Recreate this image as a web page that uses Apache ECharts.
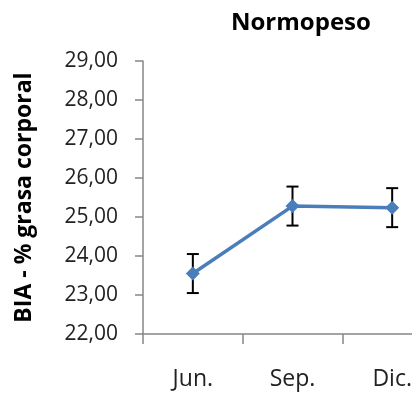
<!DOCTYPE html>
<html><head><meta charset="utf-8">
<script src="https://cdn.jsdelivr.net/npm/echarts@6/dist/echarts.min.js"></script>
<style>html,body{margin:0;padding:0;background:#fff}#c{width:412px;height:394px}</style>
</head><body><div id="c"></div>
<script>
var categories = ['Jun.', 'Sep.', 'Dic.'];
var values = [23.55, 25.28, 25.24];
var errors = [0.50, 0.50, 0.50];
var yTicks = [22, 23, 24, 25, 26, 27, 28, 29];

var chart = echarts.init(document.getElementById('c'));
var errData = values.map(function (v, i) { return [i, v - errors[i], v + errors[i]]; });
chart.setOption({
  animation: false,
  title: {
    text: 'Normopeso', left: 226, top: 6,
    textStyle: { fontFamily: 'Open Sans', fontWeight: 'bold', fontSize: 24, color: '#000' }
  },
  grid: { left: 143, top: 61, height: 273, width: 299, outerBoundsMode: 'none', containLabel: false },
  xAxis: {
    type: 'category', data: categories, boundaryGap: true,
    axisLine: { lineStyle: { color: '#868686', width: 1.5 } },
    axisTick: { show: true, length: 10, lineStyle: { color: '#868686', width: 1.5 } },
    axisLabel: { margin: 34, fontFamily: 'Open Sans', fontSize: 23, color: '#222' }
  },
  yAxis: {
    type: 'value', min: yTicks[0], max: yTicks[yTicks.length - 1], interval: 1,
    name: 'BIA - % grasa corporal', nameLocation: 'middle', nameGap: 107, nameRotate: 90,
    nameTextStyle: { fontFamily: 'Open Sans', fontWeight: 'bold', fontSize: 23, color: '#000' },
    splitLine: { show: false },
    axisLine: { show: true, lineStyle: { color: '#868686', width: 1.5 } },
    axisTick: { show: true, length: 8, lineStyle: { color: '#868686', width: 1.5 } },
    axisLabel: {
      margin: 25, fontFamily: 'Open Sans', fontSize: 21, color: '#222',
      formatter: function (v) { return v.toFixed(2).replace('.', ','); }
    }
  },
  series: [
    {
      type: 'custom', data: errData, z: 3,
      renderItem: function (params, api) {
        var x = api.value(0);
        var lo = api.coord([x, api.value(1)]);
        var hi = api.coord([x, api.value(2)]);
        var hw = 6;
        var st = { stroke: '#000', lineWidth: 2 };
        return { type: 'group', children: [
          { type: 'line', shape: { x1: lo[0], y1: lo[1], x2: hi[0], y2: hi[1] }, style: st },
          { type: 'line', shape: { x1: lo[0] - hw, y1: lo[1], x2: lo[0] + hw, y2: lo[1] }, style: st },
          { type: 'line', shape: { x1: hi[0] - hw, y1: hi[1], x2: hi[0] + hw, y2: hi[1] }, style: st }
        ]};
      }
    },
    {
      type: 'line', data: values, z: 4,
      symbol: 'diamond', symbolSize: 14,
      lineStyle: { color: '#4a7ebb', width: 3.5 },
      itemStyle: { color: '#4a7ebb' }
    }
  ]
});
</script></body></html>
